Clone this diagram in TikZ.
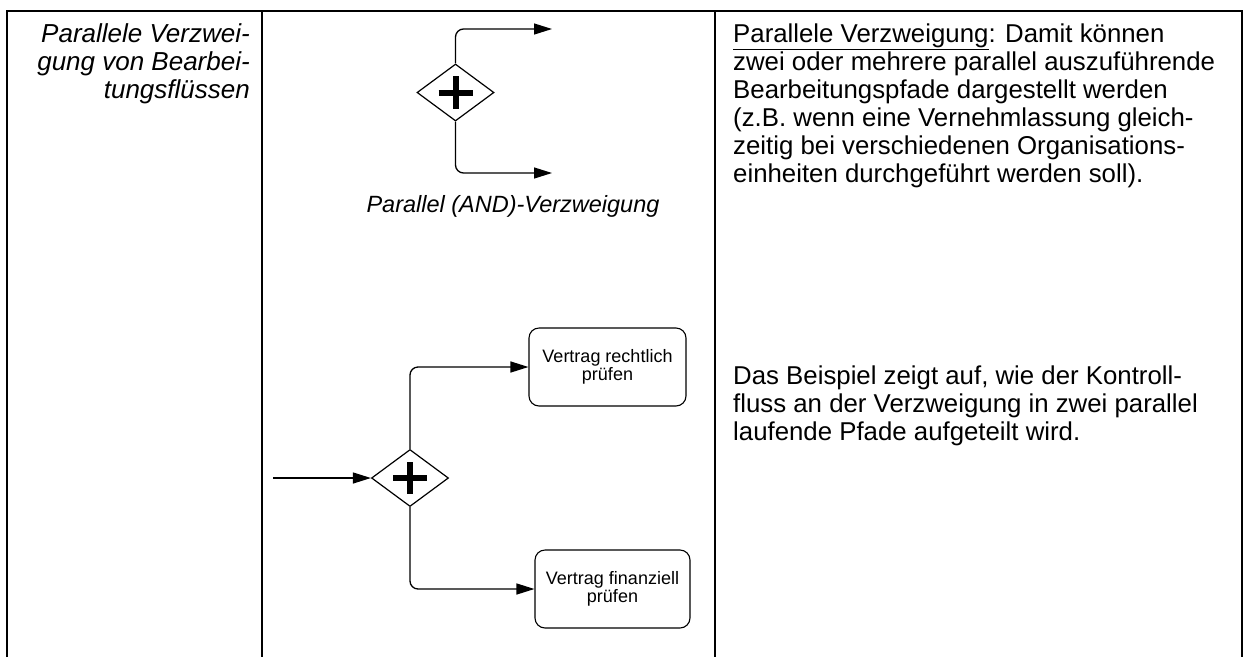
\documentclass[tikz,border=0pt]{standalone}
\usepackage{fontspec}
\setmainfont{Liberation Sans}
\usetikzlibrary{shapes.geometric,arrows.meta}
\begin{document}
\begin{tikzpicture}[x=1pt,y=-1pt,
  grid/.style={line width=1.3pt},
  gate/.style={shape=diamond,draw,line width=1.2pt,minimum width=77pt,minimum height=57pt,inner sep=0pt,fill=white},
  plus/.style={line width=6pt},
  flow/.style={line width=1.3pt,rounded corners=8pt,-{Triangle[length=18pt,width=11pt]}},
  task/.style={draw,line width=1.1pt,rounded corners=10pt,inner sep=0pt,align=center,font=\fontsize{18}{17.5}\selectfont},
  txt/.style={inner sep=0pt,font=\fontsize{25.8}{28}\selectfont},
  itxt/.style={inner sep=0pt,font=\fontsize{26}{28}\selectfont\itshape}]
\useasboundingbox (0,0) rectangle (1250,657);
% table
\draw[grid] (7,657) -- (7,11) -- (1242,11) -- (1242,657);
\draw[grid] (262,11) -- (262,657);
\draw[grid] (715,11) -- (715,657);
% left column
\node[itxt,anchor=base east] (l1) at (250,42) {Parallele Verzwei-};
\node[itxt,anchor=base east] (l2) at (250,70) {gung von Bearbei-};
\node[itxt,anchor=base east] (l3) at (250,98) {tungsflüssen};
% upper symbol
\node[gate] (g1) at (455.5,92.5) {};
\draw[plus] (g1.center) ++(-17,0) -- ++(34,0);
\draw[plus] (g1.center) ++(0,-16.5) -- ++(0,33);
\coordinate (t1) at (552,29);
\coordinate (t2) at (552,173);
\draw[flow] (g1.north) |- (t1);
\draw[flow] (g1.south) |- (t2);
\node[itxt,anchor=base,font=\fontsize{23.5}{28}\selectfont\itshape] (lab) at (513,212) {Parallel (AND)-Verzweigung};
% example
\node[gate] (g2) at (410,478) {};
\draw[plus] (g2.center) ++(-17,0) -- ++(34,0);
\draw[plus] (g2.center) ++(0,-16) -- ++(0,32);
\coordinate (in) at (273,478);
\node[task,minimum width=157pt,minimum height=78pt] (b1) at (607.5,367) {Vertrag rechtlich\\prüfen};
\node[task,minimum width=155pt,minimum height=78pt] (b2) at (612.5,589) {Vertrag finanziell\\prüfen};
\draw[flow] (in) -- (g2.west);
\draw[flow] (g2.north) |- (b1.west);
\draw[flow] (g2.south) |- (b2.west);
% right column
\node[txt,anchor=base west] (r1) at (733,42) {\underline{Parallele Verzweigung}: Damit können};
\node[txt,anchor=base west] (r2) at (733,70) {zwei oder mehrere parallel auszuführende};
\node[txt,anchor=base west] (r3) at (733,98) {Bearbeitungspfade dargestellt werden};
\node[txt,anchor=base west] (r4) at (733,126) {(z.B. wenn eine Vernehmlassung gleich-};
\node[txt,anchor=base west] (r5) at (733,154) {zeitig bei verschiedenen Organisations-};
\node[txt,anchor=base west] (r6) at (733,182) {einheiten durchgeführt werden soll).};
\node[txt,anchor=base west] (s1) at (733,384) {Das Beispiel zeigt auf, wie der Kontroll-};
\node[txt,anchor=base west] (s2) at (733,412) {fluss an der Verzweigung in zwei parallel};
\node[txt,anchor=base west] (s3) at (733,440) {laufende Pfade aufgeteilt wird.};
\end{tikzpicture}
\end{document}
